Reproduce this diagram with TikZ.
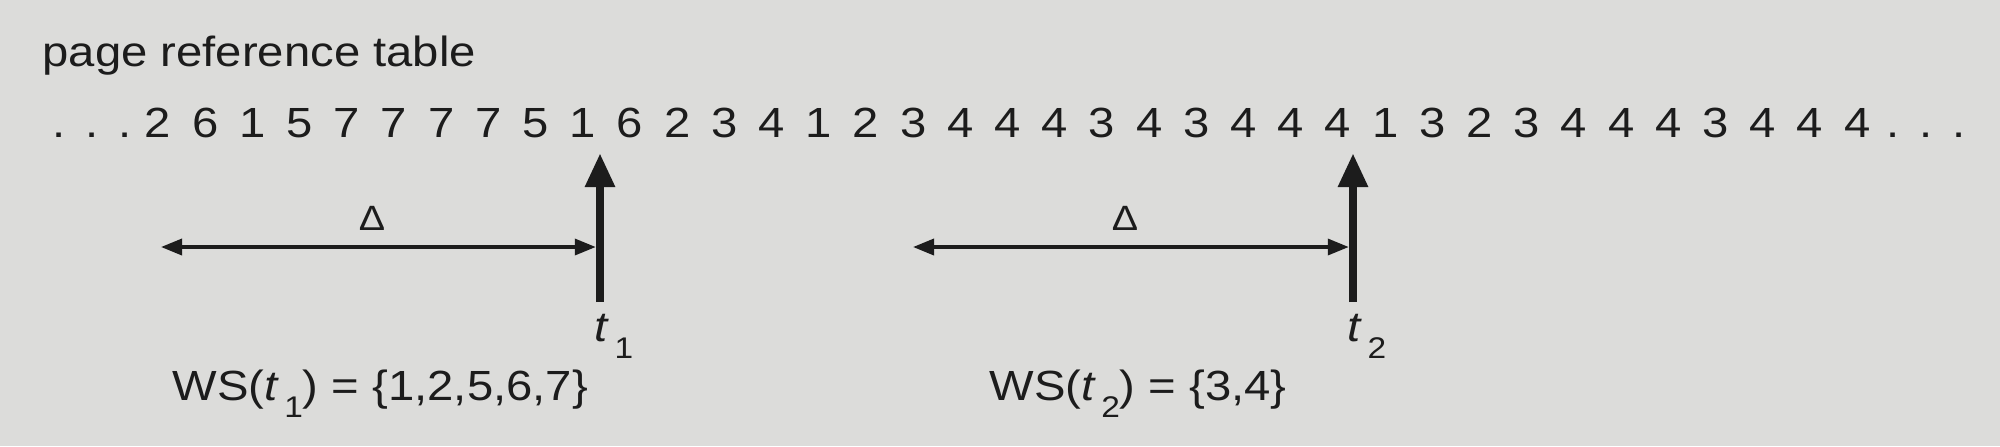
\documentclass[tikz,border=0pt]{standalone}
\usepackage{fontspec}
\setmainfont{Liberation Sans}[FakeStretch=1.12]
\definecolor{PRTback}{HTML}{DCDCDA}
\definecolor{PRTink}{HTML}{1C1C1C}
\usetikzlibrary{arrows.meta}
\newcommand{\tsub}[1]{\textit{t}\kern0.12em\raisebox{-0.17cm}{\fontsize{8.5}{10}\selectfont #1}}

\begin{document}
\begin{tikzpicture}[
  every node/.style={inner sep=0pt, text=PRTink},
  txt/.style={anchor=base west, font=\fontsize{12}{14}\selectfont},
  digit/.style={anchor=base, font=\fontsize{12}{14}\selectfont},
  delta/.style={anchor=base, font=\fontsize{10}{12}\selectfont},
  timeline/.style={draw=PRTink, line width=2.4pt, -{Triangle[length=3.4mm,width=2.8mm]}},
  window/.style={draw=PRTink, line width=1pt, {Triangle[length=2.1mm,width=1.6mm]}-{Triangle[length=2.1mm,width=1.6mm]}, shorten >=1.2pt}
]
% Background
\fill[PRTback] (0,0) rectangle (20,4.46);

% Reference string
\node[txt] (title) at (0.42,3.80) {page reference table};
\node[digit] (ldots) at (0.92,3.09) {.\kern0.2cm.\kern0.2cm.};
\foreach \p [count=\i] in {2,6,1,5,7,7,7,7,5,1,6,2,3,4,1,2,3,4,4,4,3,4,3,4,4,4,1,3,2,3,4,4,4,3,4,4,4}
  \node[digit] (d\i) at ({1.58+(\i-1)*0.472},3.09) {\p};
\node[digit] (rdots) at (19.26,3.09) {.\kern0.2cm.\kern0.2cm.};

% Time t1
\coordinate (t1top) at (6.00,2.93);
\coordinate (t1bot) at (6.00,1.44);
\coordinate (w1) at (1.61,1.99);
\draw[timeline] (t1bot) -- (t1top);
\draw[window] (w1) -- (w1 -| t1bot);
\node[delta] (delta1) at (3.72,2.16) {Δ};
\node[txt] (t1) at (5.94,1.05) {\tsub{1}};
\node[txt] (ws1) at (1.72,0.46) {WS(\tsub{1}) = \{1,2,5,6,7\}};

% Time t2
\coordinate (t2top) at (13.53,2.93);
\coordinate (t2bot) at (13.53,1.44);
\coordinate (w2) at (9.13,1.99);
\draw[timeline] (t2bot) -- (t2top);
\draw[window] (w2) -- (w2 -| t2bot);
\node[delta] (delta2) at (11.25,2.16) {Δ};
\node[txt] (t2) at (13.47,1.05) {\tsub{2}};
\node[txt] (ws2) at (9.89,0.46) {WS(\tsub{2}) = \{3,4\}};
\end{tikzpicture}
\end{document}
